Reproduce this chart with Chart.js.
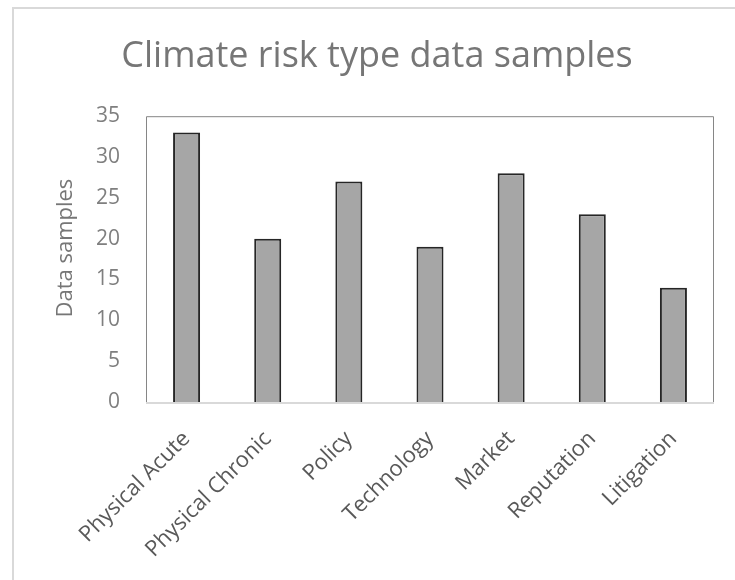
<!DOCTYPE html>
<html>
<head>
<meta charset="utf-8">
<script src="https://cdn.jsdelivr.net/npm/chart.js@4/dist/chart.umd.min.js"></script>
<style>
  html, body { margin: 0; padding: 0; background: #ffffff; }
  #wrap { width: 735px; height: 580px; }
</style>
</head>
<body>
<div id="wrap"><canvas id="c" width="735" height="580"></canvas></div>
<script>
// Climate risk categories and their sample counts
const categories = ['Physical Acute', 'Physical Chronic', 'Policy', 'Technology', 'Market', 'Reputation', 'Litigation'];
const samples = [33, 20, 27, 19, 28, 23, 14];
const yTicks = [0, 5, 10, 15, 20, 25, 30, 35];
const yAxisTitle = 'Data samples';

const FONT = "'Open Sans', 'Liberation Sans', sans-serif";

// Light frame around the whole chart, the plot-area box and the vertical axis title
const framePlugin = {
  id: 'frame',
  beforeDraw(chart) {
    const ctx = chart.ctx;
    ctx.save();
    ctx.fillStyle = '#ffffff';
    ctx.fillRect(0, 0, chart.width, chart.height);
    ctx.strokeStyle = '#d9d9d9';
    ctx.lineWidth = 2;
    ctx.strokeRect(13, 8, chart.width + 20, chart.height + 20);
    ctx.restore();
  },
  afterDatasetsDraw(chart) {
    const { left, right, top, bottom } = chart.chartArea;
    const ctx = chart.ctx;
    ctx.save();
    ctx.strokeStyle = '#868686';
    ctx.lineWidth = 1;
    ctx.beginPath();
    ctx.moveTo(left + 0.5, bottom);
    ctx.lineTo(left + 0.5, top + 0.5);
    ctx.lineTo(right - 0.5, top + 0.5);
    ctx.lineTo(right - 0.5, bottom);
    ctx.stroke();
    ctx.strokeStyle = '#d9d9d9';
    ctx.lineWidth = 2;
    ctx.beginPath();
    ctx.moveTo(left, bottom + 1);
    ctx.lineTo(right, bottom + 1);
    ctx.stroke();

    // vertical axis title, sitting a little above the plot's middle
    ctx.translate(66, (top + bottom) / 2 - 11);
    ctx.rotate(-Math.PI / 2);
    ctx.fillStyle = '#767676';
    ctx.font = '22px ' + FONT;
    ctx.textAlign = 'center';
    ctx.textBaseline = 'middle';
    ctx.fillText(yAxisTitle, 0, 0);
    ctx.restore();
  }
};

new Chart(document.getElementById('c'), {
  type: 'bar',
  data: {
    labels: categories,
    datasets: [{
      label: yAxisTitle,
      data: samples,
      backgroundColor: '#a6a6a6',
      borderColor: '#262626',
      borderWidth: 2,
      barPercentage: 0.333,
      categoryPercentage: 1.0
    }]
  },
  options: {
    responsive: false,
    animation: false,
    devicePixelRatio: 1,
    layout: { padding: { left: 40, right: 21, top: 8, bottom: 0 } },
    plugins: {
      legend: { display: false },
      tooltip: { enabled: false },
      title: {
        display: true,
        text: 'Climate risk type data samples',
        color: '#767676',
        font: { family: FONT, size: 36, weight: 'normal', lineHeight: 1.2 },
        padding: { top: 27, bottom: 38 }
      }
    },
    scales: {
      x: {
        grid: { display: false, drawTicks: false },
        border: { display: false },
        ticks: {
          color: '#595959',
          font: { family: FONT, size: 22 },
          minRotation: 45,
          maxRotation: 45,
          padding: 24
        },
        afterFit(scale) { scale.height = 178; }
      },
      y: {
        min: 0,
        max: 35,
        grid: { display: false, drawTicks: false },
        border: { display: false },
        afterBuildTicks(scale) { scale.ticks = yTicks.map(v => ({ value: v })); },
        ticks: {
          color: '#7f7f7f',
          font: { family: FONT, size: 21 },
          padding: 26
        },
        afterFit(scale) { scale.width = 106; }
      }
    }
  },
  plugins: [framePlugin]
});
</script>
</body>
</html>
